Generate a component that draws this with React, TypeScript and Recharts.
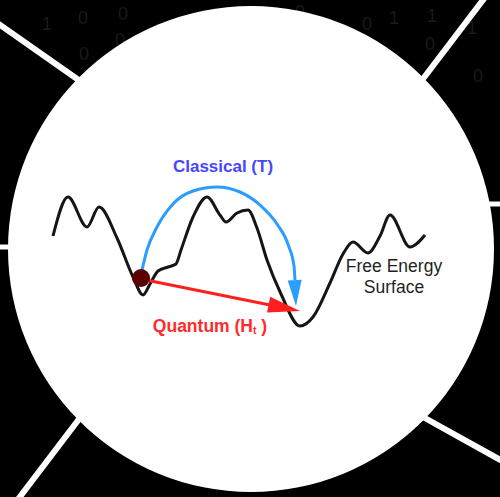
import { ComposedChart, Line, Scatter, XAxis, YAxis } from "recharts";

// free energy landscape, in picture units (x right, y down)
const energySurface = [
  { x: 53, y: 236 },
  { x: 68, y: 197 },
  { x: 87, y: 227 },
  { x: 99, y: 207 },
  { x: 117, y: 238 },
  { x: 133, y: 277 },
  { x: 143, y: 295 },
  { x: 150, y: 284 },
  { x: 158, y: 271 },
  { x: 168, y: 267 },
  { x: 176, y: 264 },
  { x: 181, y: 250 },
  { x: 193, y: 217 },
  { x: 207, y: 197 },
  { x: 220, y: 215 },
  { x: 226, y: 222 },
  { x: 237, y: 213 },
  { x: 248, y: 210 },
  { x: 257, y: 228 },
  { x: 267, y: 260 },
  { x: 281, y: 294 },
  { x: 300, y: 326 },
  { x: 313, y: 317 },
  { x: 330, y: 283 },
  { x: 343, y: 254 },
  { x: 353, y: 242 },
  { x: 368, y: 253 },
  { x: 380, y: 236 },
  { x: 390, y: 215 },
  { x: 410, y: 247 },
  { x: 425, y: 235 }
];

const classicalPath = [
  { x: 142, y: 270 },
  { x: 147, y: 250 },
  { x: 157, y: 227 },
  { x: 173, y: 204 },
  { x: 193, y: 191 },
  { x: 217, y: 187 },
  { x: 240, y: 192 },
  { x: 260, y: 205 },
  { x: 277, y: 224 },
  { x: 289, y: 247 },
  { x: 294, y: 266 },
  { x: 295, y: 280 }
];
const classicalTip = [{ x: 296, y: 306 }];

const quantumPath = [
  { x: 146, y: 280 },
  { x: 270, y: 305 }
];
const quantumTip = [{ x: 300, y: 311 }];

const particle = [{ x: 141, y: 278 }];

const classicalLabel = [{ x: 223, y: 166, text: "Classical (T)" }];
const quantumLabel = [{ x: 210, y: 326, text: "Quantum (H", sub: "t", tail: " )" }];
const surfaceLabel = [
  { x: 394, y: 266, text: "Free Energy" },
  { x: 394, y: 287, text: "Surface" }
];

const digits = [
  { x: 47, y: 30, t: "1" },
  { x: 83, y: 24, t: "0" },
  { x: 123, y: 20, t: "0" },
  { x: 84, y: 60, t: "0" },
  { x: 120, y: 46, t: "0" },
  { x: 300, y: 18, t: "0" },
  { x: 367, y: 30, t: "0" },
  { x: 394, y: 24, t: "1" },
  { x: 432, y: 22, t: "1" },
  { x: 430, y: 50, t: "0" },
  { x: 472, y: 34, t: "1" },
  { x: 478, y: 82, t: "0" }
];

const FONT = "'Liberation Sans', Arial, Helvetica, sans-serif";

function arrowHead(from: { x: number; y: number }, length: number, half: number, color: string) {
  return (props: any) => {
    const { cx, cy, payload } = props;
    const a = Math.atan2(payload.y - from.y, payload.x - from.x);
    const c = Math.cos(a);
    const s = Math.sin(a);
    const bx = cx - length * c;
    const by = cy - length * s;
    const pts = [
      [cx, cy],
      [bx - half * s, by + half * c],
      [bx + half * s, by - half * c]
    ]
      .map((p) => p.join(","))
      .join(" ");
    return <polygon points={pts} fill={color} />;
  };
}

function textShape(color: string, size: number, weight: number | string) {
  return (props: any) => {
    const { cx, cy, payload } = props;
    return (
      <text
        x={cx}
        y={cy}
        textAnchor="middle"
        dominantBaseline="central"
        fill={color}
        fontSize={size}
        fontWeight={weight}
        fontFamily={FONT}
      >
        {payload.text}
        {payload.sub ? (
          <tspan fontSize={size * 0.6} dy={4}>
            {payload.sub}
          </tspan>
        ) : null}
        {payload.tail ? <tspan dy={-4}>{payload.tail}</tspan> : null}
      </text>
    );
  };
}

export default function App() {
  return (
    <div
      style={{
        position: "fixed",
        left: 0,
        top: 0,
        width: 500,
        height: 497,
        background: "#000",
        overflow: "hidden"
      }}
    >
      <svg width={500} height={497} style={{ position: "absolute", left: 0, top: 0 }}>
        {digits.map((d, i) => (
          <text key={i} x={d.x} y={d.y} fill="#1a1a1a" fontSize={18} fontFamily={FONT} textAnchor="middle">
            {d.t}
          </text>
        ))}
        <g stroke="#fff" strokeWidth={6}>
          <line x1={-4} y1={22} x2={100} y2={95} />
          <line x1={486} y1={-4} x2={410} y2={96} />
          <line x1={-2} y1={247} x2={30} y2={247} strokeWidth={5} />
          <line x1={470} y1={204} x2={502} y2={204} strokeWidth={5} />
          <line x1={95} y1={398} x2={16} y2={502} />
          <line x1={405} y1={407} x2={504} y2={462} />
        </g>
        <circle cx={251} cy={249} r={243} fill="#fff" />
      </svg>
      <div style={{ position: "absolute", left: 0, top: 0 }}>
        <ComposedChart width={500} height={497} margin={{ top: 0, right: 0, bottom: 0, left: 0 }}>
          <XAxis type="number" dataKey="x" domain={[0, 500]} hide allowDataOverflow />
          <YAxis type="number" dataKey="y" domain={[0, 497]} reversed hide allowDataOverflow />
          <Line
            data={energySurface}
            dataKey="y"
            type="monotone"
            stroke="#151515"
            strokeWidth={3}
            dot={false}
            activeDot={false}
            isAnimationActive={false}
          />
          <Line
            data={classicalPath}
            dataKey="y"
            type="monotone"
            stroke="#2b9dff"
            strokeWidth={3}
            dot={false}
            activeDot={false}
            isAnimationActive={false}
          />
          <Line
            data={quantumPath}
            dataKey="y"
            type="linear"
            stroke="#ff1f1f"
            strokeWidth={3}
            dot={false}
            activeDot={false}
            isAnimationActive={false}
          />
          <Scatter
            data={classicalTip}
            shape={arrowHead(classicalPath[classicalPath.length - 2], 26, 7, "#2b9dff")}
            isAnimationActive={false}
          />
          <Scatter
            data={quantumTip}
            shape={arrowHead(quantumPath[0], 32, 8, "#ff1f1f")}
            isAnimationActive={false}
          />
          <Scatter
            data={particle}
            shape={(p: any) => <circle cx={p.cx} cy={p.cy} r={9} fill="#5a0303" />}
            isAnimationActive={false}
          />
          <Scatter data={classicalLabel} shape={textShape("#4646ff", 17, "bold")} isAnimationActive={false} />
          <Scatter data={quantumLabel} shape={textShape("#ff2a2a", 17.5, "bold")} isAnimationActive={false} />
          <Scatter data={surfaceLabel} shape={textShape("#1f1f1f", 17.5, "normal")} isAnimationActive={false} />
        </ComposedChart>
      </div>
    </div>
  );
}
